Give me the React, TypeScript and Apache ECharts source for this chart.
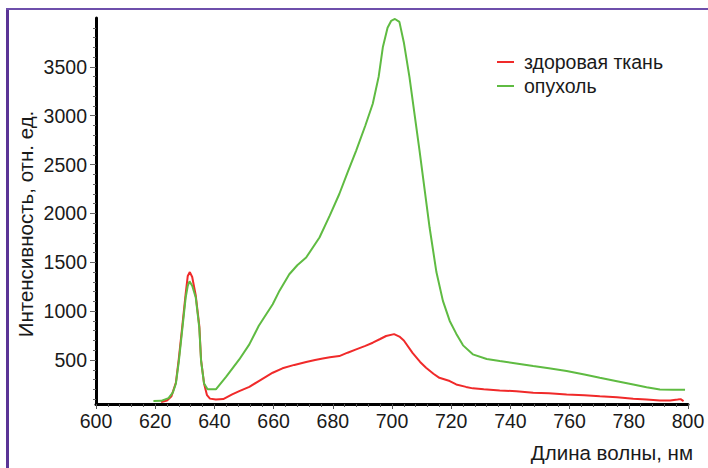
import React, { useEffect, useRef } from "react";
import * as echarts from "echarts";

const healthyWl = [622, 624, 625.5, 627, 628, 629.2, 630.3, 631, 631.7, 632.5, 633.7, 634.9, 635.5, 636.5, 637.5, 638.5, 640.5, 643, 646, 648.4, 651.8, 655, 659.7, 663, 667, 671, 674, 676.6, 679, 682.2, 685, 687.9, 691, 693.5, 696, 698, 700.7, 702.5, 704, 707, 709.5, 711.5, 714, 716, 719.5, 721.7, 725, 727.3, 731, 736.4, 742, 747.7, 753, 759, 765, 770.2, 776, 781.5, 786, 790.5, 794, 796.5, 797.5, 798.5];
const healthyVal = [70, 85, 130, 270, 520, 860, 1180, 1360, 1400, 1350, 1160, 850, 500, 260, 140, 105, 95, 100, 148, 182, 225, 285, 370, 415, 450, 480, 500, 515, 528, 540, 575, 609, 645, 677, 715, 746, 765, 740, 700, 570, 480, 421, 360, 318, 285, 250, 225, 210, 200, 189, 180, 164, 160, 148, 140, 130, 120, 103, 95, 86, 85, 95, 100, 80];

const tumorWl = [619.4, 622, 624.5, 626, 627, 628, 629.2, 630.3, 631, 631.6, 632.5, 633.7, 634.9, 635.5, 636.5, 637.7, 640.5, 644, 648.4, 651.8, 655, 659.7, 662, 665.3, 668, 671, 675.5, 679, 682.2, 685, 687.9, 691, 693.5, 695.5, 696.9, 698.5, 699.7, 701, 702.5, 704, 705.9, 709.3, 712.7, 715, 717.2, 719.5, 721.7, 724, 727.3, 732, 736.4, 742, 747.7, 753, 759, 765, 770.2, 776, 781.5, 786, 790.5, 795, 799];
const tumorVal = [80, 82, 110, 170, 260, 490, 830, 1140, 1260, 1305, 1260, 1140, 830, 490, 260, 200, 200, 330, 506, 660, 850, 1071, 1210, 1378, 1470, 1549, 1754, 1980, 2199, 2420, 2643, 2900, 3122, 3400, 3700, 3900, 3970, 3990, 3960, 3750, 3395, 2643, 1856, 1400, 1105, 900, 770, 650, 558, 510, 489, 465, 438, 415, 387, 352, 318, 283, 250, 222, 199, 195, 195];

const seriesNames = ["здоровая ткань", "опухоль"];
const yLabelValues = [500, 1000, 1500, 2000, 2500, 3000, 3500];
const yMinorValues = [100, 200, 300, 400, 600, 700, 800, 900, 1100, 1200, 1300, 1400, 1600, 1700, 1800, 1900, 2100, 2200, 2300, 2400, 2600, 2700, 2800, 2900, 3100, 3200, 3300, 3400, 3600, 3700, 3800, 3900];
const xAxisTitle = "Длина волны, нм";
const yAxisTitle = "Интенсивность, отн. ед.";

const FONT = "'Liberation Sans', Arial, sans-serif";

export default function App() {
  const ref = useRef<HTMLDivElement>(null);
  useEffect(() => {
    document.body.style.margin = "0";
    const chart = echarts.init(ref.current!, null, { renderer: "svg" });
    const zip = (a: number[], b: number[]) => a.map((x, i) => [x, b[i]]);
    chart.setOption({
      animation: false,
      backgroundColor: "#ffffff",
      textStyle: { fontFamily: FONT },
      grid: { left: 96, right: 20, top: 18, bottom: 64 },
      legend: {
        orient: "vertical",
        left: 492,
        top: 47,
        icon: "rect",
        itemWidth: 17,
        itemHeight: 2,
        itemGap: 4,
        textStyle: { fontFamily: FONT, fontSize: 19.5, color: "#1a1a1a", padding: [0, 0, 0, 5] },
        data: seriesNames,
      },
      xAxis: {
        type: "value",
        min: 600,
        max: 800,
        interval: 20,
        axisLine: { show: true, lineStyle: { color: "#000", width: 3 } },
        axisTick: { show: true, length: 5, lineStyle: { color: "#555", width: 1 } },
        minorTick: { show: true, splitNumber: 5, length: 3, lineStyle: { color: "#555", width: 1 } },
        axisLabel: { fontFamily: FONT, fontSize: 19.5, color: "#1a1a1a", margin: 7 },
        splitLine: { show: false },
      },
      yAxis: [
        {
          type: "value",
          min: 50,
          max: 4000,
          axisLine: { show: true, lineStyle: { color: "#000", width: 3 } },
          axisTick: { show: true, customValues: yLabelValues, length: 6, lineStyle: { color: "#666", width: 1 } },
          axisLabel: {
            customValues: yLabelValues,
            formatter: (v: number) => String(v),
            fontFamily: FONT,
            fontSize: 19.5,
            color: "#1a1a1a",
            margin: 9,
          },
          splitLine: { show: false },
        },
        {
          type: "value",
          position: "left",
          min: 50,
          max: 4000,
          axisLine: { show: false },
          axisTick: { show: true, customValues: yMinorValues, length: 3, lineStyle: { color: "#666", width: 1 } },
          axisLabel: { show: false },
          splitLine: { show: false },
        },
      ],
      series: [
        {
          name: seriesNames[0],
          type: "line",
          data: zip(healthyWl, healthyVal),
          symbol: "none",
          color: "#f02a2a",
          lineStyle: { width: 2, color: "#f02a2a" },
        },
        {
          name: seriesNames[1],
          type: "line",
          data: zip(tumorWl, tumorVal),
          symbol: "none",
          color: "#5fbb42",
          lineStyle: { width: 2, color: "#5fbb42" },
        },
      ],
      graphic: [
        { type: "rect", shape: { x: 6, y: 8, width: 3, height: 460 }, style: { fill: "#5a3496" } },
        { type: "rect", shape: { x: 6, y: 8, width: 702, height: 2 }, style: { fill: "#6e4fab" } },
        {
          type: "text",
          x: 25,
          y: 224,
          rotation: Math.PI / 2,
          style: { text: yAxisTitle, font: `20.5px ${FONT}`, fill: "#1a1a1a", align: "center", verticalAlign: "middle" },
        },
        {
          type: "text",
          x: 693,
          y: 452,
          style: { text: xAxisTitle, font: `20.5px ${FONT}`, fill: "#1a1a1a", align: "right", verticalAlign: "middle" },
        },
      ],
    });
    return () => chart.dispose();
  }, []);
  return <div ref={ref} style={{ width: 708, height: 468 }} />;
}
